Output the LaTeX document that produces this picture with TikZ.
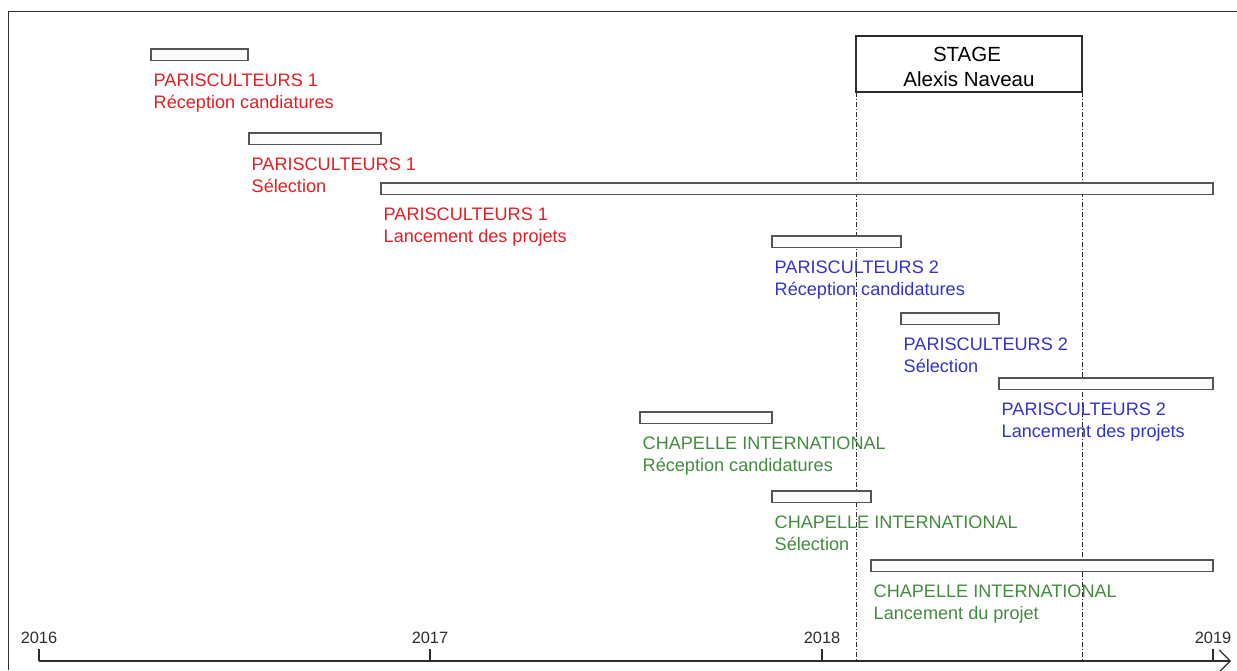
\documentclass[tikz,border=0pt]{standalone}
\usepackage{fontspec}
\setmainfont{Liberation Sans}
\usetikzlibrary{arrows.meta}
\definecolor{pred}{RGB}{228,30,36}
\definecolor{pblue}{RGB}{50,50,206}
\definecolor{cgreen}{RGB}{66,140,62}
\definecolor{edge}{RGB}{85,85,85}
\definecolor{ink}{RGB}{45,45,45}
\begin{document}
\begin{tikzpicture}[x=1pt,y=-1pt,
  bar/.style={draw=edge, line width=1.3pt, fill=gray!3, inner sep=0pt, outer sep=0pt,
              anchor=north west, minimum height=11.5pt},
  lbl/.style={anchor=base west, inner sep=0pt, font=\fontsize{18.1}{21}\selectfont},
  stagetxt/.style={anchor=base, inner sep=0pt, text=black, font=\fontsize{20.5}{24}\selectfont},
  yeartxt/.style={anchor=base, inner sep=0pt, text=ink, font=\fontsize{16.4}{19}\selectfont},
  axisline/.style={draw=ink, line width=1.2pt},
  dashdotline/.style={draw=ink, line width=0.9pt, dash pattern=on 5pt off 2pt on 1pt off 2pt},
  framelines/.style={draw=ink, line width=1.3pt}
]
\useasboundingbox (0,0) rectangle (1237,670);

% outer frame (left and top edges)
\draw[framelines] (8.5,670) -- (8.5,11.5) -- (1237,11.5);

% time axis
\coordinate (axL) at (39,661);
\coordinate (axR) at (1231,661);
\draw[axisline, -{Straight Barb[length=11pt,width=22pt]}] (axL) -- (axR);
\foreach \yr/\xx in {2016/39, 2017/430, 2018/822, 2019/1213} {
  \coordinate (tick\yr) at (\xx,661);
  \draw[axisline] (tick\yr) -- ++(0,-12);
  \node[yeartxt] (year\yr) at (\xx,643) {\yr};
}

% internship period
\node[draw=ink, line width=1.3pt, fill=white, minimum width=226pt, minimum height=56pt,
      inner sep=0pt, outer sep=0pt, anchor=north west] (stage) at (856,36) {};
\node[stagetxt] (stageA) at (967,61.5) {STAGE};
\node[stagetxt] (stageB) at (969,86) {Alexis Naveau};
\draw[dashdotline] (stage.south west) -- (stage.south west |- axL);
\draw[dashdotline] (stage.south east) -- (stage.south east |- axL);

% bars
\node[bar, minimum width=97pt]  (p1r) at (151,49) {};
\node[bar, minimum width=132pt] (p1s) at (249,133) {};
\node[bar, minimum width=832pt] (p1l) at (381,183) {};
\node[bar, minimum width=129pt] (p2r) at (772,236) {};
\node[bar, minimum width=98pt]  (p2s) at (901,313) {};
\node[bar, minimum width=214pt] (p2l) at (999,378) {};
\node[bar, minimum width=132pt] (cir) at (640,412) {};
\node[bar, minimum width=99pt]  (cis) at (772,491) {};
\node[bar, minimum width=342pt] (cil) at (871,560) {};

% labels under each bar
\foreach \b/\col/\ta/\tb in {
  p1r/pred/PARISCULTEURS 1/Réception candiatures,
  p1s/pred/PARISCULTEURS 1/Sélection,
  p1l/pred/PARISCULTEURS 1/Lancement des projets,
  p2r/pblue/PARISCULTEURS 2/Réception candidatures,
  p2s/pblue/PARISCULTEURS 2/Sélection,
  p2l/pblue/PARISCULTEURS 2/Lancement des projets,
  cir/cgreen/CHAPELLE INTERNATIONAL/Réception candidatures,
  cis/cgreen/CHAPELLE INTERNATIONAL/Sélection,
  cil/cgreen/CHAPELLE INTERNATIONAL/Lancement du projet} {
  \node[lbl, text=\col] (\b-title) at ([shift={(2.5pt,-25.5pt)}]\b.south west) {\ta};
  \node[lbl, text=\col] (\b-step) at ([shift={(2.5pt,-47.5pt)}]\b.south west) {\tb};
}
\end{tikzpicture}
\end{document}
